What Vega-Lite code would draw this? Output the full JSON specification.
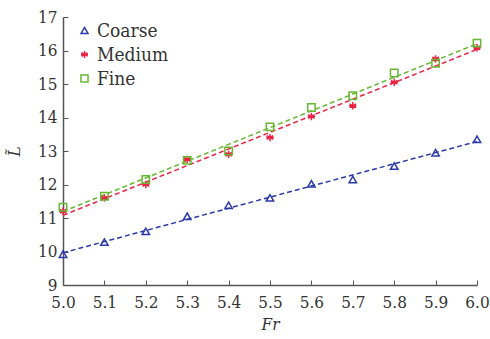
{
  "$schema": "https://vega.github.io/schema/vega-lite/v6.json",
  "width": 414,
  "height": 268,
  "autosize": {"type": "none"},
  "padding": {"left": 63, "top": 17, "right": 13, "bottom": 54},
  "background": "white",
  "config": {
    "view": {"stroke": null},
    "font": "DejaVu Serif Condensed",
    "axis": {
      "grid": false,
      "labelFlush": false,
      "domainColor": "#555555",
      "domainWidth": 1.5,
      "tickColor": "#555555",
      "labelFont": "DejaVu Serif Condensed",
      "labelFontSize": 17,
      "labelColor": "#333333",
      "titleFont": "DejaVu Serif Condensed",
      "titleFontSize": 17,
      "titleFontStyle": "italic",
      "titleFontWeight": "normal",
      "titleColor": "#333333"
    }
  },
  "data": {
    "values": [
      {"series": "Coarse", "Fr": 5.0, "L": 9.92},
      {"series": "Coarse", "Fr": 5.1, "L": 10.28},
      {"series": "Coarse", "Fr": 5.2, "L": 10.6},
      {"series": "Coarse", "Fr": 5.3, "L": 11.05},
      {"series": "Coarse", "Fr": 5.4, "L": 11.38},
      {"series": "Coarse", "Fr": 5.5, "L": 11.6},
      {"series": "Coarse", "Fr": 5.6, "L": 12.02},
      {"series": "Coarse", "Fr": 5.7, "L": 12.15},
      {"series": "Coarse", "Fr": 5.8, "L": 12.55},
      {"series": "Coarse", "Fr": 5.9, "L": 12.95},
      {"series": "Coarse", "Fr": 6.0, "L": 13.35},
      {"series": "Medium", "Fr": 5.0, "L": 11.2},
      {"series": "Medium", "Fr": 5.1, "L": 11.6},
      {"series": "Medium", "Fr": 5.2, "L": 12.0},
      {"series": "Medium", "Fr": 5.3, "L": 12.75},
      {"series": "Medium", "Fr": 5.4, "L": 12.9},
      {"series": "Medium", "Fr": 5.5, "L": 13.4},
      {"series": "Medium", "Fr": 5.6, "L": 14.03},
      {"series": "Medium", "Fr": 5.7, "L": 14.35},
      {"series": "Medium", "Fr": 5.8, "L": 15.05},
      {"series": "Medium", "Fr": 5.9, "L": 15.75},
      {"series": "Medium", "Fr": 6.0, "L": 16.08},
      {"series": "Fine", "Fr": 5.0, "L": 11.32},
      {"series": "Fine", "Fr": 5.1, "L": 11.65},
      {"series": "Fine", "Fr": 5.2, "L": 12.15},
      {"series": "Fine", "Fr": 5.3, "L": 12.72},
      {"series": "Fine", "Fr": 5.4, "L": 13.0},
      {"series": "Fine", "Fr": 5.5, "L": 13.72},
      {"series": "Fine", "Fr": 5.6, "L": 14.3},
      {"series": "Fine", "Fr": 5.7, "L": 14.65},
      {"series": "Fine", "Fr": 5.8, "L": 15.33},
      {"series": "Fine", "Fr": 5.9, "L": 15.62},
      {"series": "Fine", "Fr": 6.0, "L": 16.22}
    ]
  },
  "encoding": {
    "x": {
      "field": "Fr", "type": "quantitative", "title": "Fr",
      "scale": {"domain": [5, 6], "nice": false, "zero": false},
      "axis": {"values": [5.0, 5.1, 5.2, 5.3, 5.4, 5.5, 5.6, 5.7, 5.8, 5.9, 6.0], "format": ".1f", "tickSize": -5, "labelPadding": 14, "titlePadding": 6}
    },
    "y": {
      "field": "L", "type": "quantitative", "title": "L̃",
      "scale": {"domain": [9, 17], "nice": false, "zero": false},
      "axis": {"values": [9, 10, 11, 12, 13, 14, 15, 16, 17], "tickSize": -5, "labelPadding": 11, "titlePadding": 14}
    },
    "color": {
      "field": "series", "type": "nominal",
      "scale": {"domain": ["Coarse", "Medium", "Fine"], "range": ["#2b3aa8", "#ee2244", "#66b832"]},
      "legend": {
        "title": null, "orient": "none", "legendX": 12, "legendY": 4,
        "labelFont": "DejaVu Serif Condensed", "labelFontSize": 19, "labelColor": "#333333",
        "symbolSize": 50, "symbolStrokeWidth": 1.5, "rowPadding": 4, "labelOffset": 3,
        "symbolFillColor": "transparent", "symbolDash": [1, 0]
      }
    }
  },
  "layer": [
    {
      "transform": [{"regression": "L", "on": "Fr", "groupby": ["series"]}],
      "mark": {"type": "line", "strokeDash": [5, 3], "strokeWidth": 1.5}
    },
    {
      "mark": {"type": "point", "filled": false, "strokeWidth": 1.5, "opacity": 1},
      "encoding": {
        "shape": {
          "field": "series", "type": "nominal",
          "scale": {"domain": ["Coarse", "Medium", "Fine"], "range": ["triangle-up", "M0,-1L0,1M-0.87,-0.5L0.87,0.5M-0.87,0.5L0.87,-0.5M-1,0L1,0", "square"]}
        },
        "size": {"value": 55}
      }
    }
  ]
}
